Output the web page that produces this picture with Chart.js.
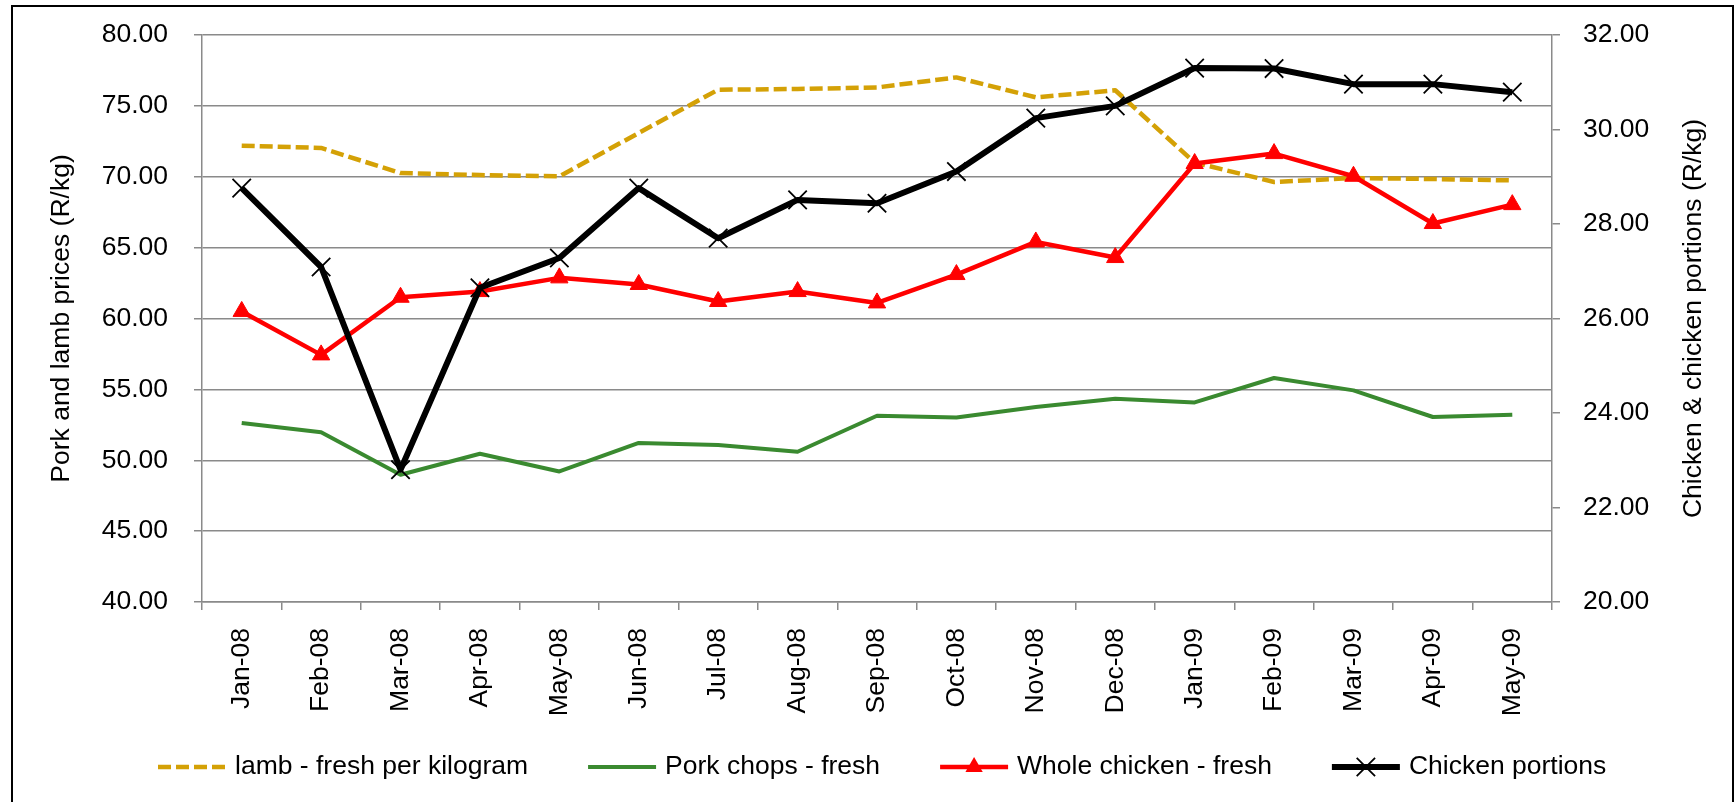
<!DOCTYPE html>
<html>
<head>
<meta charset="utf-8">
<title>Meat prices</title>
<script src="https://cdn.jsdelivr.net/npm/chart.js@4.4.1/dist/chart.umd.min.js"></script>
<style>
    html, body { margin: 0; padding: 0; background: #fff; }
    #wrap { position: relative; width: 1736px; height: 802px; overflow: hidden; }
    #frame { position: absolute; left: 11px; top: 5px; width: 1719px; height: 900px; border: 2.5px solid #000; pointer-events: none; }
</style>
</head>
<body>
<div id="wrap">
    <canvas id="priceChart" width="1736" height="802"></canvas>
    <div id="frame"></div>
</div>
<script>
const months = ['Jan-08', 'Feb-08', 'Mar-08', 'Apr-08', 'May-08', 'Jun-08', 'Jul-08', 'Aug-08', 'Sep-08',
    'Oct-08', 'Nov-08', 'Dec-08', 'Jan-09', 'Feb-09', 'Mar-09', 'Apr-09', 'May-09'];

// left axis (R/kg)
const lamb = [72.19, 72.03, 70.26, 70.12, 70.03, 73.09, 76.14, 76.19, 76.30, 77.01, 75.60, 76.10, 71.00, 69.63, 69.91, 69.84, 69.74];
const porkChops = [52.63, 51.97, 48.98, 50.46, 49.21, 51.22, 51.07, 50.60, 53.14, 53.02, 53.76, 54.34, 54.08, 55.80, 54.93, 53.05, 53.21];

// right axis (R/kg)
const wholeChicken = [26.15, 25.23, 26.45, 26.57, 26.86, 26.72, 26.36, 26.57, 26.33, 26.93, 27.62, 27.29, 29.28, 29.49, 29.01, 28.01, 28.41];
const chickenPortions = [28.76, 27.09, 22.80, 26.65, 27.28, 28.76, 27.70, 28.51, 28.44, 29.11, 30.24, 30.50, 31.30, 31.29, 30.96, 30.96, 30.79];

const leftTicks = { min: 40, max: 80, step: 5 };
const rightTicks = { min: 20, max: 32, step: 2 };

const FONT = '"Liberation Sans", Arial, sans-serif';
const FONT_SIZE = 26.5;
const GRID = '#8a8a8a';
const plot = { left: 202, right: 1552, top: 35, bottom: 602 };
const legendLayout = { left: 158, y: 767, sample: 68, gap: 9, spacing: 60 };

Chart.defaults.font.family = FONT;
Chart.defaults.font.size = FONT_SIZE;
Chart.defaults.color = '#000';

// legend drawn as line samples like the spreadsheet original
const bottomLegend = {
    id: 'bottomLegend',
    afterDraw(chart) {
        const { ctx } = chart;
        ctx.save();
        ctx.font = FONT_SIZE + 'px ' + FONT;
        ctx.textBaseline = 'middle';
        ctx.textAlign = 'left';
        let x = legendLayout.left;
        const y = legendLayout.y;
        chart.data.datasets.forEach((ds) => {
            ctx.strokeStyle = ds.borderColor;
            ctx.lineWidth = ds.borderWidth;
            ctx.setLineDash(ds.borderDash || []);
            ctx.beginPath();
            ctx.moveTo(x, y);
            ctx.lineTo(x + legendLayout.sample, y);
            ctx.stroke();
            ctx.setLineDash([]);
            const cx = x + legendLayout.sample / 2;
            if (ds.pointStyle === 'triangle') {
                const r = ds.pointRadius;
                ctx.fillStyle = ds.pointBackgroundColor;
                ctx.beginPath();
                ctx.moveTo(cx, y - r);
                ctx.lineTo(cx + r * 0.866, y + r / 2);
                ctx.lineTo(cx - r * 0.866, y + r / 2);
                ctx.closePath();
                ctx.fill();
            } else if (ds.pointStyle === 'crossRot') {
                const d = ds.pointRadius * 0.707;
                ctx.strokeStyle = ds.pointBorderColor;
                ctx.lineWidth = ds.pointBorderWidth;
                ctx.beginPath();
                ctx.moveTo(cx - d, y - d); ctx.lineTo(cx + d, y + d);
                ctx.moveTo(cx + d, y - d); ctx.lineTo(cx - d, y + d);
                ctx.stroke();
            }
            x += legendLayout.sample + legendLayout.gap;
            ctx.fillStyle = '#000';
            ctx.fillText(ds.label, x, y);
            x += ctx.measureText(ds.label).width + legendLayout.spacing;
        });
        ctx.restore();
    },
};

// right-hand axis title reads bottom-to-top in the original
const rightTitle = {
    id: 'rightTitle',
    afterDraw(chart) {
        const { ctx, chartArea } = chart;
        ctx.save();
        ctx.font = FONT_SIZE + 'px ' + FONT;
        ctx.fillStyle = '#000';
        ctx.textAlign = 'center';
        ctx.textBaseline = 'middle';
        ctx.translate(1694, (chartArea.top + chartArea.bottom) / 2);
        ctx.rotate(-Math.PI / 2);
        ctx.fillText('Chicken & chicken portions (R/kg)', 0, 0);
        ctx.restore();
    },
};

// fixed axis box; drop the label overflow padding so the plot top stays put
const fitVertical = (width) => (s) => {
    s.width = width;
    s.paddingTop = 0;
    s.paddingBottom = 0;
};

new Chart(document.getElementById('priceChart'), {
    type: 'line',
    data: {
        labels: months,
        datasets: [
            {
                label: 'lamb - fresh per kilogram',
                data: lamb,
                yAxisID: 'y',
                borderColor: '#d4a106',
                borderWidth: 4.5,
                borderDash: [13, 5],
                pointRadius: 0,
                order: 3,
            },
            {
                label: 'Pork chops - fresh',
                data: porkChops,
                yAxisID: 'y',
                borderColor: '#3a8a30',
                borderWidth: 4,
                pointRadius: 0,
                order: 2,
            },
            {
                label: 'Whole chicken - fresh',
                data: wholeChicken,
                yAxisID: 'y1',
                borderColor: '#ff0000',
                borderWidth: 4.5,
                pointStyle: 'triangle',
                pointRadius: 10,
                pointBackgroundColor: '#ff0000',
                pointBorderColor: '#ff0000',
                pointBorderWidth: 1,
                order: 1,
            },
            {
                label: 'Chicken portions',
                data: chickenPortions,
                yAxisID: 'y1',
                borderColor: '#000000',
                borderWidth: 6,
                pointStyle: 'crossRot',
                pointRadius: 13,
                pointBorderColor: '#000000',
                pointBorderWidth: 1.8,
                order: 0,
            },
        ],
    },
    options: {
        responsive: false,
        animation: false,
        events: [],
        elements: { line: { tension: 0, borderJoinStyle: 'round' } },
        layout: { padding: { top: plot.top, left: 0, right: 0, bottom: 0 } },
        plugins: { legend: { display: false }, tooltip: { enabled: false } },
        scales: {
            x: {
                offset: true,
                grid: { offset: true, drawOnChartArea: false, drawTicks: true, tickLength: 8, color: GRID, lineWidth: 1.5 },
                border: { display: true, color: GRID, width: 1.5 },
                ticks: { autoSkip: false, minRotation: 90, maxRotation: 90, padding: 18 },
                afterFit: (s) => { s.height = 802 - plot.bottom; },
            },
            y: {
                position: 'left',
                min: leftTicks.min,
                max: leftTicks.max,
                ticks: { stepSize: leftTicks.step, padding: 26, callback: (v) => v.toFixed(2) },
                grid: { color: GRID, lineWidth: 1.5, tickLength: 8 },
                border: { display: true, color: GRID, width: 1.5 },
                title: { display: true, text: 'Pork and lamb prices (R/kg)', padding: { top: 46 } },
                afterFit: fitVertical(plot.left),
            },
            y1: {
                position: 'right',
                min: rightTicks.min,
                max: rightTicks.max,
                ticks: { stepSize: rightTicks.step, padding: 23, callback: (v) => v.toFixed(2) },
                grid: { drawOnChartArea: false, color: GRID, lineWidth: 1.5, tickLength: 8 },
                border: { display: true, color: GRID, width: 1.5 },
                afterFit: fitVertical(1736 - plot.right),
            },
        },
    },
    plugins: [bottomLegend, rightTitle],
});
</script>
</body>
</html>
